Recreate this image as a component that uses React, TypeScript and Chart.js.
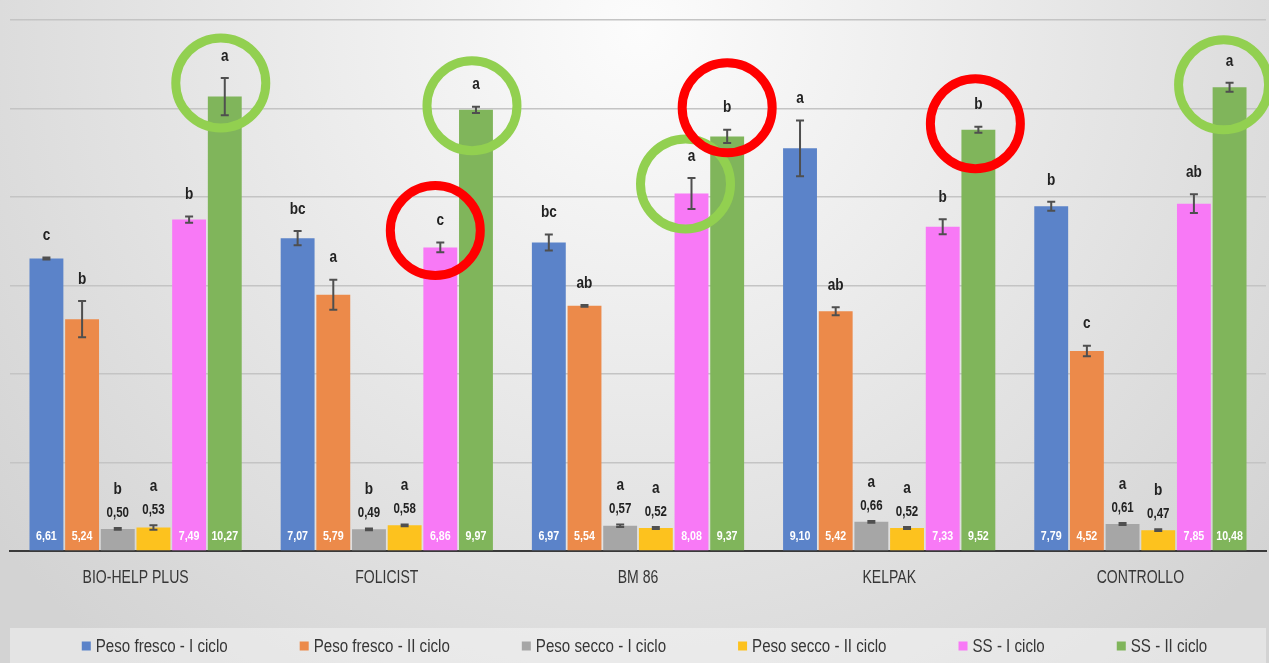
import React, { useEffect, useRef } from "react";
import { Chart, registerables } from "chart.js";

Chart.register(...registerables);

const categories = ["BIO-HELP PLUS", "FOLICIST", "BM 86", "KELPAK", "CONTROLLO"];
const seriesNames = [
  "Peso fresco - I ciclo",
  "Peso fresco - II ciclo",
  "Peso secco - I ciclo",
  "Peso secco - II ciclo",
  "SS - I ciclo",
  "SS - II ciclo",
];
const seriesColors = ["#5b83c9", "#ec8a4a", "#a6a6a6", "#fdc21e", "#f879f6", "#80b55b"];

const pesoFrescoI = [6.61, 7.07, 6.97, 9.1, 7.79];
const pesoFrescoII = [5.24, 5.79, 5.54, 5.42, 4.52];
const pesoSeccoI = [0.5, 0.49, 0.57, 0.66, 0.61];
const pesoSeccoII = [0.53, 0.58, 0.52, 0.52, 0.47];
const ssI = [7.49, 6.86, 8.08, 7.33, 7.85];
const ssII = [10.27, 9.97, 9.37, 9.52, 10.48];

const errPesoFrescoI = [0.02, 0.16, 0.18, 0.63, 0.1];
const errPesoFrescoII = [0.41, 0.34, 0.02, 0.09, 0.12];
const errPesoSeccoI = [0.02, 0.02, 0.03, 0.02, 0.02];
const errPesoSeccoII = [0.05, 0.02, 0.02, 0.02, 0.02];
const errSsI = [0.07, 0.11, 0.35, 0.17, 0.21];
const errSsII = [0.42, 0.07, 0.15, 0.07, 0.1];

const lettersPesoFrescoI = ["c", "bc", "bc", "a", "b"];
const lettersPesoFrescoII = ["b", "a", "ab", "ab", "c"];
const lettersPesoSeccoI = ["b", "b", "a", "a", "a"];
const lettersPesoSeccoII = ["a", "a", "a", "a", "b"];
const lettersSsI = ["b", "c", "a", "b", "ab"];
const lettersSsII = ["a", "a", "b", "b", "a"];

const yTicks = [0, 2, 4, 6, 8, 10, 12];

// highlighted bars: category index, series index, ring colour, shift of ring
const highlights = [
  { cat: 0, series: 5, color: "#92d050", dx: -4, dy: 5 },
  { cat: 1, series: 5, color: "#92d050", dx: -4, dy: -1 },
  { cat: 1, series: 4, color: "#ff0000", dx: -5, dy: -12 },
  { cat: 2, series: 4, color: "#92d050", dx: -6, dy: 6 },
  { cat: 2, series: 5, color: "#ff0000", dx: 0, dy: -22 },
  { cat: 3, series: 5, color: "#ff0000", dx: -3, dy: -3 },
  { cat: 4, series: 5, color: "#92d050", dx: -6, dy: 2 },
];

const seriesValues = [pesoFrescoI, pesoFrescoII, pesoSeccoI, pesoSeccoII, ssI, ssII];
const seriesErrors = [errPesoFrescoI, errPesoFrescoII, errPesoSeccoI, errPesoSeccoII, errSsI, errSsII];
const seriesLetters = [
  lettersPesoFrescoI,
  lettersPesoFrescoII,
  lettersPesoSeccoI,
  lettersPesoSeccoII,
  lettersSsI,
  lettersSsII,
];

const FONT = '"Liberation Sans", Arial, sans-serif';

const fmt = (v: number) => v.toFixed(2).replace(".", ",");

function narrowText(
  ctx: CanvasRenderingContext2D,
  text: string,
  x: number,
  y: number,
  align: CanvasTextAlign,
  sx = 0.82
) {
  ctx.save();
  ctx.translate(x, y);
  ctx.scale(sx, 1);
  ctx.textAlign = align;
  ctx.fillText(text, 0, 0);
  ctx.restore();
}

const decorPlugin = {
  id: "decor",
  beforeDraw(chart: any) {
    const { ctx, width, height } = chart;
    ctx.save();
    const g = ctx.createRadialGradient(640, 30, 0, 640, 30, 820);
    g.addColorStop(0, "#fcfcfc");
    g.addColorStop(1, "#d3d3d3");
    ctx.fillStyle = g;
    ctx.fillRect(0, 0, width, height);
    ctx.fillStyle = "rgba(255,255,255,0.4)";
    ctx.fillRect(10, 628, width - 13, height - 628);
    ctx.restore();
  },
  afterDatasetsDraw(chart: any) {
    const { ctx } = chart;
    const y = chart.scales.y;
    ctx.save();
    // error bars
    chart.data.datasets.forEach((ds: any, si: number) => {
      const meta = chart.getDatasetMeta(si);
      meta.data.forEach((bar: any, i: number) => {
        const v = seriesValues[si][i];
        const e = seriesErrors[si][i];
        const yt = y.getPixelForValue(v + e);
        const yb = y.getPixelForValue(v - e);
        ctx.strokeStyle = "#4f4f4f";
        ctx.lineWidth = 2;
        ctx.beginPath();
        ctx.moveTo(bar.x, yt);
        ctx.lineTo(bar.x, yb);
        ctx.moveTo(bar.x - 4, yt);
        ctx.lineTo(bar.x + 4, yt);
        ctx.moveTo(bar.x - 4, yb);
        ctx.lineTo(bar.x + 4, yb);
        ctx.stroke();
      });
    });
    // value labels and letters
    ctx.textBaseline = "middle";
    chart.data.datasets.forEach((ds: any, si: number) => {
      const meta = chart.getDatasetMeta(si);
      meta.data.forEach((bar: any, i: number) => {
        const v = seriesValues[si][i];
        const e = seriesErrors[si][i];
        const yt = y.getPixelForValue(v + e);
        const base = y.getPixelForValue(0);
        if (v >= 1) {
          ctx.font = "bold 13px " + FONT;
          ctx.fillStyle = "#ffffff";
          narrowText(ctx, fmt(v), bar.x, base - 15, "center");
          ctx.font = "bold 17px " + FONT;
          ctx.fillStyle = "#222222";
          narrowText(ctx, seriesLetters[si][i], bar.x, yt - 22, "center", 0.8);
        } else {
          ctx.font = "bold 14px " + FONT;
          ctx.fillStyle = "#222222";
          narrowText(ctx, fmt(v), bar.x, yt - 15, "center");
          ctx.font = "bold 17px " + FONT;
          narrowText(ctx, seriesLetters[si][i], bar.x, yt - 39, "center", 0.8);
        }
      });
    });
    // rings
    highlights.forEach((h) => {
      const bar = chart.getDatasetMeta(h.series).data[h.cat];
      const v = seriesValues[h.series][h.cat] + seriesErrors[h.series][h.cat];
      const cy = y.getPixelForValue(v) + h.dy;
      ctx.strokeStyle = h.color;
      ctx.lineWidth = 9;
      ctx.beginPath();
      ctx.arc(bar.x + h.dx, cy, 45, 0, Math.PI * 2);
      ctx.stroke();
    });
    ctx.restore();
  },
  afterDraw(chart: any) {
    const { ctx, width } = chart;
    const xs = chart.scales.x;
    ctx.save();
    ctx.textBaseline = "middle";
    // category labels
    ctx.font = "18px " + FONT;
    ctx.fillStyle = "#363636";
    categories.forEach((c, i) => {
      narrowText(ctx, c, xs.getPixelForTick(i), 578, "center", 0.78);
    });
    // legend
    const sx = 0.84;
    ctx.font = "18px " + FONT;
    const box = 9;
    const gapBox = 5;
    const gapItem = 72;
    const widths = seriesNames.map((n) => box + gapBox + ctx.measureText(n).width * sx);
    const total = widths.reduce((a, b) => a + b, 0) + gapItem * (widths.length - 1);
    let x = (width - total) / 2 + 10;
    const cy = 646;
    seriesNames.forEach((n, i) => {
      ctx.fillStyle = seriesColors[i];
      ctx.fillRect(x, cy - box / 2, box, box);
      ctx.fillStyle = "#363636";
      narrowText(ctx, n, x + box + gapBox, cy + 1, "left", sx);
      x += widths[i] + gapItem;
    });
    ctx.restore();
  },
};

export default function App() {
  const ref = useRef<HTMLCanvasElement | null>(null);
  useEffect(() => {
    if (!ref.current) return;
    const chart = new Chart(ref.current, {
      type: "bar",
      data: {
        labels: categories,
        datasets: seriesNames.map((name, i) => ({
          label: name,
          data: seriesValues[i],
          backgroundColor: seriesColors[i],
          borderWidth: 0,
          categoryPercentage: 0.852,
          barPercentage: 0.95,
        })),
      },
      options: {
        animation: false,
        responsive: true,
        maintainAspectRatio: false,
        layout: { padding: { left: 10, right: 3, top: 20, bottom: 0 } },
        plugins: {
          legend: { display: false },
          tooltip: { enabled: false },
          title: { display: false },
        },
        scales: {
          x: {
            grid: { display: false, drawTicks: false },
            border: { display: true, color: "#3a3a3a", width: 2 },
            ticks: { display: false },
            afterFit: (scale: any) => {
              scale.height = 112;
            },
          },
          y: {
            min: 0,
            max: 12,
            afterBuildTicks: (scale: any) => {
              scale.ticks = yTicks.map((v) => ({ value: v }));
            },
            ticks: { display: false },
            grid: { color: "#c4c4c4", lineWidth: 1.5, drawTicks: false },
            border: { display: false },
          },
        },
      },
      plugins: [decorPlugin],
    });
    return () => chart.destroy();
  }, []);
  return (
    <div style={{ position: "absolute", left: 0, top: 0, width: 1269, height: 663 }}>
      <canvas ref={ref} />
    </div>
  );
}
